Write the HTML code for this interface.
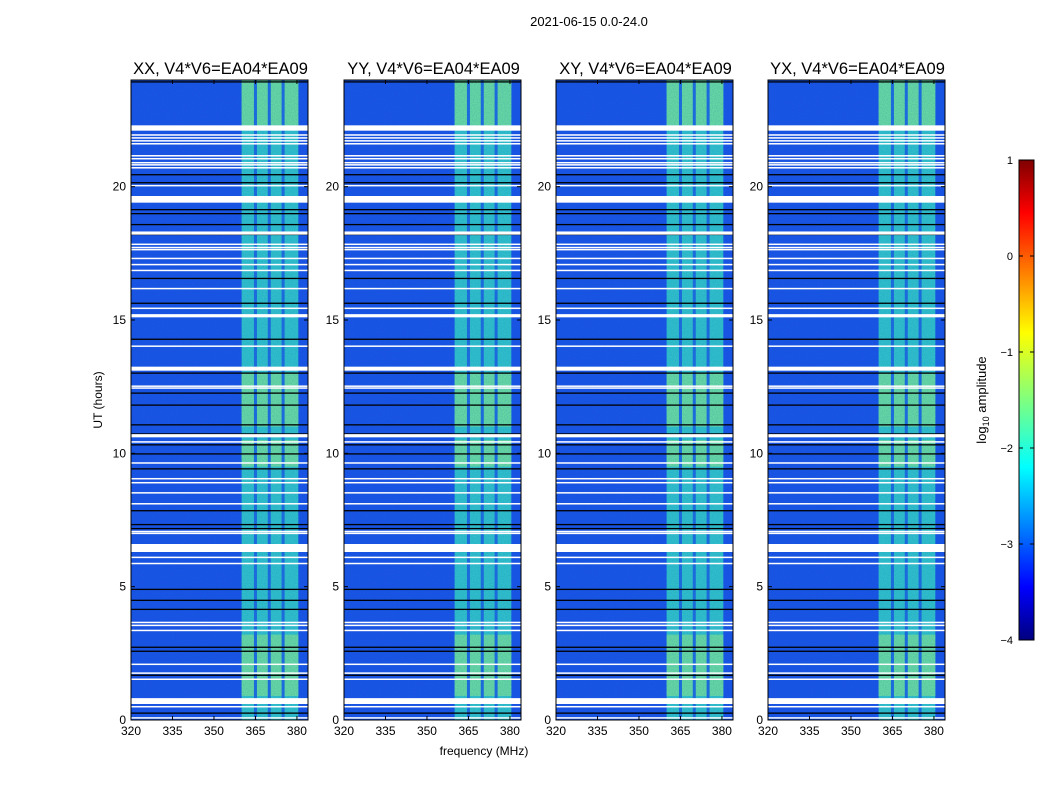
<!DOCTYPE html>
<html><head><meta charset="utf-8"><style>
body{margin:0;background:#fff;}
svg{font-family:"Liberation Sans",sans-serif;}
</style></head><body>
<svg id="chart" width="1050" height="800" viewBox="0 0 1050 800">
<defs>
<linearGradient id="jet" x1="0" y1="1" x2="0" y2="0">
<stop offset="0" stop-color="#00007f"/><stop offset="0.11" stop-color="#0000ff"/>
<stop offset="0.36" stop-color="#00ffff"/><stop offset="0.5" stop-color="#7fff7f"/>
<stop offset="0.64" stop-color="#ffff00"/><stop offset="0.89" stop-color="#ff0000"/>
<stop offset="1" stop-color="#7f0000"/></linearGradient>
<filter id="noise" x="0" y="0" width="100%" height="100%">
<feTurbulence type="fractalNoise" baseFrequency="0.9" numOctaves="1" seed="3"/>
<feColorMatrix type="matrix" values="0 0 0 0 0.0  0 0 0 0 0.2  0 0 0 0 0.6  0 0 0 0.4 0"/>
</filter>
</defs>
<text x="589" y="26" font-size="13" text-anchor="middle">2021-06-15 0.0-24.0</text>
<g id="panels"></g>
<g>
<rect x="1019" y="160" width="15" height="480" fill="url(#jet)" stroke="#000" stroke-width="1"/>
<text x="986" y="400" font-size="13" text-anchor="middle" transform="rotate(-90 986 400)">log<tspan font-size="9" dy="3">10</tspan><tspan dy="-3"> amplitude</tspan></text>
<g id="cbticks"></g>
</g>
<text x="484" y="755" font-size="12" text-anchor="middle">frequency (MHz)</text>
<text x="102" y="400" font-size="12" text-anchor="middle" transform="rotate(-90 102 400)">UT (hours)</text>
</svg>
<script>
const panelTitles=["XX, V4*V6=EA04*EA09","YY, V4*V6=EA04*EA09","XY, V4*V6=EA04*EA09","YX, V4*V6=EA04*EA09"];
const xTicks=[320,335,350,365,380];
const yTicks=[0,5,10,15,20];
const cbTicks=[1,0,-1,-2,-3,-4];
const bandFreq=[360,380.5];
const bandGaps=[365,370,375];
const brightSpans=[[0.9,3.2],[22.3,24],[9.5,10.5],[11,13]];
const flagWide=[[22.1,22.3],[19.4,19.65],[18.2,18.32],[15.1,15.22],[13.1,13.25],[10.6,10.72],[6.3,6.6],[0.6,0.82]];
const flagThin=[21.94,21.83,21.72,21.61,21.16,21.05,20.9,20.82,20.71,20.04,17.84,17.72,17.64,17.31,17.08,16.86,16.18,15.44,14.02,12.52,12.45,10.43,9.64,9.05,8.9,8.52,8.11,7.07,7.0,6.1,5.87,3.66,3.55,3.36,2.09,1.76,1.53,0.5,0.08];
const blackLines=[23.93,20.45,20.15,19.14,18.99,18.58,18.21,16.56,15.63,14.28,13.01,12.26,11.81,11.07,10.73,10.32,9.98,9.42,7.85,7.33,7.18,4.9,4.49,4.15,2.73,2.58,1.68,0.26];
const panelX=[131,344,556,768];
const PW=177, Y0=720, Y1=80;
const ns="http://www.w3.org/2000/svg";
function mk(t,a,p){const e=document.createElementNS(ns,t);for(const k in a)e.setAttribute(k,a[k]);p.appendChild(e);return e;}
const yS=h=>Y0-(h/24)*(Y0-Y1);
const root=document.getElementById('panels');
panelX.forEach((px,pi)=>{
  const xS=f=>px+(f-320)/(384-320)*PW;
  const g=mk('g',{},root);
  
  
  let r=mk('rect',{x:px,y:Y1,width:PW,height:Y0-Y1,fill:'#1e4ae8'},g);
  
  
  const band=mk('rect',{x:xS(bandFreq[0]),y:Y1,width:xS(bandFreq[1])-xS(bandFreq[0]),height:Y0-Y1,fill:'#38c8c8'},g);
  
  
  brightSpans.forEach(s=>{
    const b=mk('rect',{x:xS(bandFreq[0]),y:yS(s[1]),width:xS(bandFreq[1])-xS(bandFreq[0]),height:yS(s[0])-yS(s[1]),fill:'#78e49a'},g);
    
    
  });
  bandGaps.forEach(f=>{
    const b=mk('rect',{x:xS(f)-1.5,y:Y1,width:3,height:Y0-Y1,fill:'#2266e0'},g);
    
    
  });
  mk('rect',{x:px,y:Y1,width:PW,height:Y0-Y1,filter:'url(#noise)'},g);
  blackLines.forEach(h=>{
    const l=mk('rect',{x:px,y:yS(h)-0.6,width:PW,height:1.3,fill:'#000'},g);
    
    
  });
  flagThin.forEach(h=>{
    const l=mk('rect',{x:px,y:yS(h)-0.7,width:PW,height:1.5,fill:'#fff'},g);
    
    
  });
  flagWide.forEach(s=>{
    const l=mk('rect',{x:px,y:yS(s[1]),width:PW,height:yS(s[0])-yS(s[1]),fill:'#fff'},g);
    
    
  });
  mk('rect',{x:px,y:Y1,width:PW,height:Y0-Y1,fill:'none',stroke:'#000','stroke-width':1},g);
  const t=mk('text',{x:px+PW/2+1,y:Y1-6,'font-size':16.5,'text-anchor':'middle'},g);
  t.textContent=panelTitles[pi];
  
  
  xTicks.forEach(f=>{
    const x=xS(f);
    mk('line',{x1:x,x2:x,y1:Y0,y2:Y0-4,stroke:'#000'},g);
    mk('line',{x1:x,x2:x,y1:Y1,y2:Y1+4,stroke:'#000'},g);
    const tx=mk('text',{x:x,y:Y0+15,'font-size':12,'text-anchor':'middle'},g);
    tx.textContent=f;
    
    
  });
  yTicks.forEach(h=>{
    const y=yS(h);
    mk('line',{x1:px,x2:px+4,y1:y,y2:y,stroke:'#000'},g);
    mk('line',{x1:px+PW,x2:px+PW-4,y1:y,y2:y,stroke:'#000'},g);
    const ty=mk('text',{x:px-5,y:y+4,'font-size':12,'text-anchor':'end'},g);
    ty.textContent=h;
    
    
  });
});
const cb=document.getElementById('cbticks');
cbTicks.forEach(v=>{
  const y=160+(1-v)/5*480;
  mk('line',{x1:1019,x2:1023,y1:y,y2:y,stroke:'#000'},cb);
  mk('line',{x1:1030,x2:1034,y1:y,y2:y,stroke:'#000'},cb);
  const t=mk('text',{x:1013,y:y+4,'font-size':11,'text-anchor':'end'},cb);
  t.textContent=v<0?'\u2212'+(-v):v;
  
  
});
</script>
</body></html>
